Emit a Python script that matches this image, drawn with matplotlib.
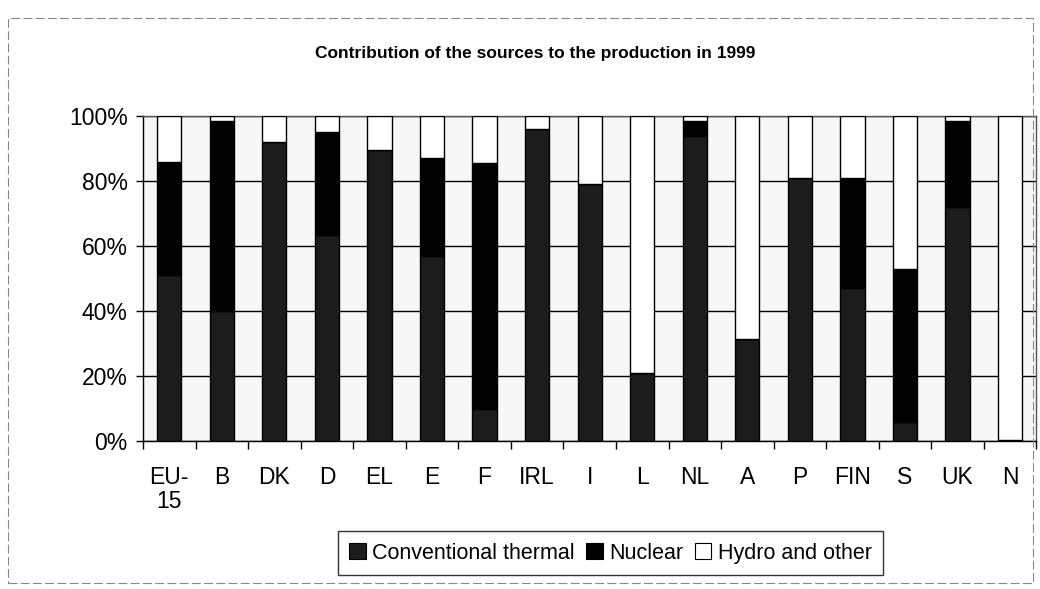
import numpy as np
import matplotlib.pyplot as plt
from matplotlib.patches import Rectangle, Patch
from matplotlib.ticker import PercentFormatter, FixedLocator, NullFormatter

# ------------------ Data (share of production, %) ------------------
countries = ["EU-\n15", "B", "DK", "D", "EL", "E", "F", "IRL", "I", "L",
             "NL", "A", "P", "FIN", "S", "UK", "N"]
thermal = [51, 40, 92, 63.5, 89.5, 57, 10, 96, 79, 21, 94, 31.5, 81, 47, 6, 72, 0.5]
nuclear = [35, 58.5, 0, 31.5, 0, 30, 75.5, 0, 0, 0, 4.5, 0, 0, 34, 47, 26.5, 0]
hydro = [14, 1.5, 8, 5, 10.5, 13, 14.5, 4, 21, 79, 1.5, 68.5, 19, 19, 47, 1.5, 99.5]
series_names = ["Conventional thermal", "Nuclear", "Hydro and other"]
# -------------------------------------------------------------------

plt.rcParams["font.family"] = ["Liberation Sans", "DejaVu Sans"]

fig = plt.figure(figsize=(10.4, 5.89), dpi=100)
ax = fig.add_axes([0.1375, 0.251, 0.859, 0.552])
ax.set_facecolor("#f7f7f7")

x = np.arange(len(countries))
width = 0.46
colors = ["#1c1c1c", "#000000", "#ffffff"]

bottom = np.zeros(len(countries))
for vals, col, name in zip([thermal, nuclear, hydro], colors, series_names):
    v = np.array(vals, dtype=float)
    ax.bar(x, v, width, bottom=bottom, color=col, edgecolor="black",
           linewidth=1.0, label=name, zorder=3)
    bottom += v

ax.set_xlim(-0.5, len(countries) - 0.5)
ax.set_ylim(0, 100)
ax.set_yticks(np.arange(0, 101, 20))
ax.yaxis.set_major_formatter(PercentFormatter(decimals=0))
ax.yaxis.grid(True, color="black", linewidth=1.0, zorder=0)
ax.set_axisbelow(True)

# category labels centred on bars, tick marks on the boundaries (Excel style)
ax.set_xticks(x)
ax.set_xticklabels(countries, fontsize=16.5, va="top", linespacing=1.05)
ax.tick_params(axis="x", length=0, pad=18)
ax.xaxis.set_minor_locator(FixedLocator(np.arange(-0.5, len(countries), 1.0)))
ax.xaxis.set_minor_formatter(NullFormatter())
ax.tick_params(axis="x", which="minor", length=6, width=1.0, direction="out")
ax.tick_params(axis="y", labelsize=16.5, length=5, width=1.0, pad=6)

for side in ["top", "right", "left", "bottom"]:
    ax.spines[side].set_linewidth(1.0)
ax.spines["top"].set_color("#555555")
ax.spines["right"].set_color("#555555")

fig.text(0.515, 0.91, "Contribution of the sources to the production in 1999",
         ha="center", va="center", fontsize=12.5, fontweight="bold")

handles = [Patch(facecolor=c, edgecolor="black", linewidth=0.8) for c in colors]
fig.legend(handles, series_names, loc="center", bbox_to_anchor=(0.587, 0.061),
           ncol=3, fontsize=15.5, frameon=True, fancybox=False, edgecolor="black",
           handlelength=0.75, handleheight=0.75, handletextpad=0.3,
           columnspacing=0.55, borderpad=0.55)

# outer chart-area border
fig.patches.append(Rectangle((0.008, 0.01), 0.985, 0.96, transform=fig.transFigure,
                             fill=False, edgecolor="#888888", linewidth=0.8,
                             linestyle=(0, (8, 3))))

fig.savefig("out.png", dpi=100)
